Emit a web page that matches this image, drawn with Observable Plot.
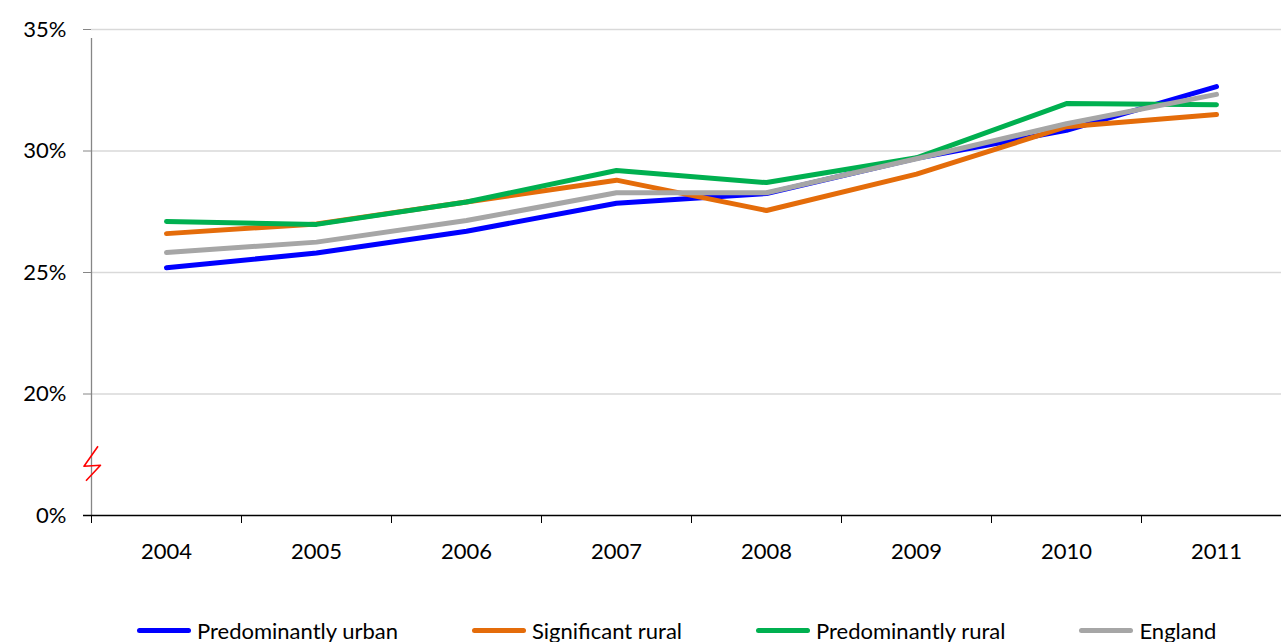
<!DOCTYPE html>
<html>
<head>
<meta charset="utf-8">
<script src="https://cdn.jsdelivr.net/npm/d3@7"></script>
<script src="https://cdn.jsdelivr.net/npm/@observablehq/plot@0.6"></script>
<style>
  html, body { margin: 0; padding: 0; background: #fff; }
  body { width: 1281px; height: 642px; overflow: hidden; font-family: Lato, "Open Sans", sans-serif; }
  #legend { display: flex; flex-wrap: nowrap; align-items: center; height: 36px; font-size: 22px; color: #000; padding-left: 137px; white-space: nowrap; }
  #legend .item { display: flex; flex: none; align-items: center; margin-right: 74px; white-space: nowrap; }
  #legend .sw { flex: none; width: 54px; height: 5px; border-radius: 3px; margin-right: 6px; }
</style>
</head>
<body>
<div id="chart"></div>
<div id="legend"></div>
<script>
const years = [2004, 2005, 2006, 2007, 2008, 2009, 2010, 2011];
const seriesNames = ["Predominantly urban", "Significant rural", "Predominantly rural", "England"];
const seriesColors = ["#0000FF", "#E46C0A", "#00B050", "#A6A6A6"];
const predominantlyUrban = [25.2, 25.8, 26.7, 27.85, 28.25, 29.7, 30.85, 32.65];
const significantRural   = [26.6, 27.0, 27.9, 28.8, 27.55, 29.05, 31.0, 31.5];
const predominantlyRural = [27.1, 26.98, 27.9, 29.2, 28.7, 29.72, 31.95, 31.9];
const england            = [25.82, 26.25, 27.14, 28.28, 28.28, 29.68, 31.12, 32.33];
const yTicks = [15, 20, 25, 30, 35];
const yTickLabels = ["0%", "20%", "25%", "30%", "35%"];

const seriesValues = [predominantlyUrban, significantRural, predominantlyRural, england];
const data = [];
seriesNames.forEach((name, i) => {
  years.forEach((yr, j) => data.push({ series: name, year: yr, value: seriesValues[i][j] }));
});
const boundaries = years.map(y => y - 0.5);

const chart = Plot.plot({
  width: 1281,
  height: 612,
  marginLeft: 91,
  marginRight: 0,
  marginTop: 29,
  marginBottom: 97,
  style: { fontFamily: "Lato, 'Open Sans', sans-serif", fontSize: "22px", color: "#000", background: "#fff" },
  x: { type: "linear", domain: [2003.5, 2011.5], range: [91, 1291] },
  y: { domain: [15, 35] },
  color: { domain: seriesNames, range: seriesColors },
  marks: [
    Plot.ruleY(yTicks.filter(t => t > 15), { stroke: "#d9d9d9", strokeWidth: 1.3 }),
    Plot.axisY({ ticks: yTicks, tickFormat: d => yTickLabels[yTicks.indexOf(d)], tickSize: 8, tickPadding: 17, stroke: "#868686", fontSize: 22, label: null }),
    Plot.axisX({ ticks: boundaries, tickFormat: () => "", tickSize: 8, stroke: "#000", label: null }),
    Plot.axisX({ ticks: years, tickFormat: d => String(d), tickSize: 0, tickPadding: 28, fontSize: 22, label: null }),
    Plot.ruleX([2003.5], { y1: 15, y2: 35, stroke: "#868686", strokeWidth: 1.3, insetBottom: -9 }),
    Plot.ruleY([15], { stroke: "#000", strokeWidth: 1.3, insetLeft: -8 }),
    Plot.line(data, { x: "year", y: "value", z: "series", stroke: "series", strokeWidth: 5, strokeLinecap: "round", strokeLinejoin: "round" })
  ]
});
document.getElementById("chart").appendChild(chart);

// axis-break symbol on the y axis (between the 0% and 20% ticks)
const xs = chart.scale("x"), ys = chart.scale("y");
const bx = xs.apply(2003.5), by = (ys.apply(15) + ys.apply(20)) / 2 + 9;
d3.select(chart).append("path")
  .attr("d", `M${bx + 7},${by - 17} L${bx - 7},${by + 3} L${bx + 9.5},${by + 2} L${bx - 5},${by + 17.5}`)
  .attr("fill", "none").attr("stroke", "#FF0000").attr("stroke-width", 1.6).attr("stroke-linejoin", "round");

const legend = document.getElementById("legend");
seriesNames.forEach((name, i) => {
  const item = document.createElement("div");
  item.className = "item";
  const sw = document.createElement("span");
  sw.className = "sw";
  sw.style.background = seriesColors[i];
  const label = document.createElement("span");
  label.textContent = name;
  item.appendChild(sw); item.appendChild(label);
  legend.appendChild(item);
});
</script>
</body>
</html>
